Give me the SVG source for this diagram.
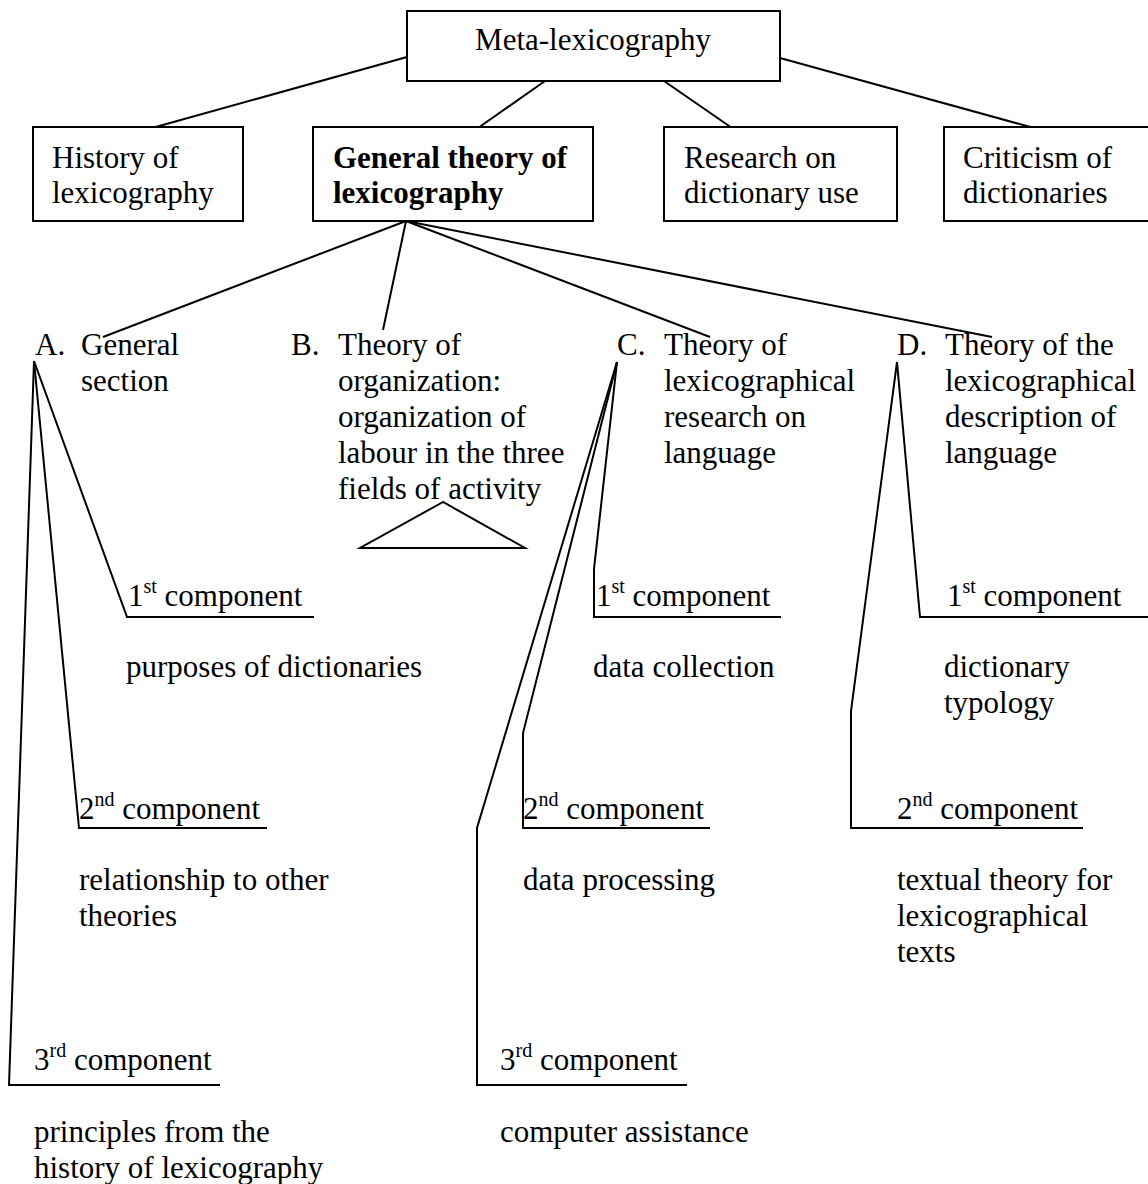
<svg xmlns="http://www.w3.org/2000/svg" width="1148" height="1184" viewBox="0 0 1148 1184">
<style>
text{font-family:"Liberation Serif","Times New Roman",serif;font-size:31px;fill:#000}
.b{font-weight:bold}
.box{fill:#fff;stroke:#000;stroke-width:2}
.ln{fill:none;stroke:#000;stroke-width:2;stroke-linejoin:miter}
.sup{font-size:20px}
</style>
<rect width="1148" height="1184" fill="#fff"/>
<g id="connectors">
<line class="ln" x1="407" y1="57" x2="152" y2="128"/>
<line class="ln" x1="545" y1="81" x2="478" y2="128"/>
<line class="ln" x1="664" y1="81" x2="732" y2="128"/>
<line class="ln" x1="780" y1="58" x2="1034" y2="128"/>
<line class="ln" x1="406" y1="221" x2="103" y2="337"/>
<line class="ln" x1="406" y1="221" x2="383" y2="330"/>
<line class="ln" x1="406" y1="221" x2="710" y2="337"/>
<line class="ln" x1="406" y1="221" x2="992" y2="337"/>
<polyline class="ln" points="34,361 127,617 314,617"/>
<polyline class="ln" points="34,361 79,828 267,828"/>
<polyline class="ln" points="34,361 9,1085 220,1085"/>
<polyline class="ln" points="617,362 594,569 594,617 781,617"/>
<polyline class="ln" points="617,362 523,733 523,828 710,828"/>
<polyline class="ln" points="617,362 477,828 477,1085 687,1085"/>
<polyline class="ln" points="897,362 920,617 1148,617"/>
<polyline class="ln" points="897,362 851,711 851,828 1083,828"/>
</g>
<g id="meta">
<rect class="box" x="407" y="11" width="373" height="70"/>
<text x="593" y="50" text-anchor="middle">Meta-lexicography</text>
</g>
<g id="history">
<rect class="box" x="33" y="127" width="210" height="94"/>
<text x="52" y="168">History of</text>
<text x="52" y="203">lexicography</text>
</g>
<g id="general">
<rect class="box" x="313" y="127" width="280" height="94"/>
<text class="b" x="333" y="168">General theory of</text>
<text class="b" x="333" y="203">lexicography</text>
</g>
<g id="research">
<rect class="box" x="664" y="127" width="233" height="94"/>
<text x="684" y="168">Research on</text>
<text x="684" y="203">dictionary use</text>
</g>
<g id="criticism">
<rect class="box" x="944" y="127" width="210" height="94"/>
<text x="963" y="168">Criticism of</text>
<text x="963" y="203">dictionaries</text>
</g>
<g id="sectionA">
<text x="35" y="355">A.</text>
<text x="81" y="355">General</text>
<text x="81" y="391">section</text>
</g>
<g id="sectionB">
<text x="291" y="355">B.</text>
<text x="338" y="355">Theory of</text>
<text x="338" y="391">organization:</text>
<text x="338" y="427">organization of</text>
<text x="338" y="463">labour in the three</text>
<text x="338" y="499">fields of activity</text>
<polygon class="ln" points="443,502 360,548 525,548"/>
</g>
<g id="sectionC">
<text x="617" y="355">C.</text>
<text x="664" y="355">Theory of</text>
<text x="664" y="391">lexicographical</text>
<text x="664" y="427">research on</text>
<text x="664" y="463">language</text>
</g>
<g id="sectionD">
<text x="897" y="355">D.</text>
<text x="945" y="355">Theory of the</text>
<text x="945" y="391">lexicographical</text>
<text x="945" y="427">description of</text>
<text x="945" y="463">language</text>
</g>
<g id="A1">
<text x="128" y="606">1<tspan class="sup" dy="-13">st</tspan><tspan dy="13"> component</tspan></text>
<text x="126" y="677">purposes of dictionaries</text>
</g>
<g id="A2">
<text x="79" y="819">2<tspan class="sup" dy="-13">nd</tspan><tspan dy="13"> component</tspan></text>
<text x="79" y="890">relationship to other</text>
<text x="79" y="926">theories</text>
</g>
<g id="A3">
<text x="34" y="1070">3<tspan class="sup" dy="-13">rd</tspan><tspan dy="13"> component</tspan></text>
<text x="34" y="1142">principles from the</text>
<text x="34" y="1178">history of lexicography</text>
</g>
<g id="C1">
<text x="596" y="606">1<tspan class="sup" dy="-13">st</tspan><tspan dy="13"> component</tspan></text>
<text x="593" y="677">data collection</text>
</g>
<g id="C2">
<text x="523" y="819">2<tspan class="sup" dy="-13">nd</tspan><tspan dy="13"> component</tspan></text>
<text x="523" y="890">data processing</text>
</g>
<g id="C3">
<text x="500" y="1070">3<tspan class="sup" dy="-13">rd</tspan><tspan dy="13"> component</tspan></text>
<text x="500" y="1142">computer assistance</text>
</g>
<g id="D1">
<text x="947" y="606">1<tspan class="sup" dy="-13">st</tspan><tspan dy="13"> component</tspan></text>
<text x="944" y="677">dictionary</text>
<text x="944" y="713">typology</text>
</g>
<g id="D2">
<text x="897" y="819">2<tspan class="sup" dy="-13">nd</tspan><tspan dy="13"> component</tspan></text>
<text x="897" y="890">textual theory for</text>
<text x="897" y="926">lexicographical</text>
<text x="897" y="962">texts</text>
</g>
</svg>
